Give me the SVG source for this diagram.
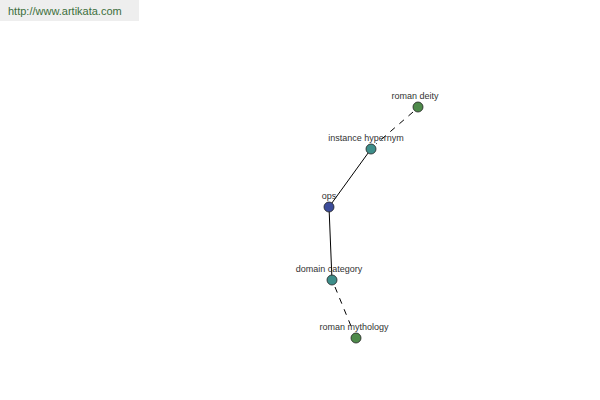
<svg xmlns="http://www.w3.org/2000/svg" width="600" height="400" viewBox="0 0 600 400">
<style>
.lbl{font-family:"Liberation Sans",Arial,sans-serif;font-size:9px;fill:#333;text-anchor:middle}
.node{stroke:#222;stroke-width:0.8}
.edge{stroke:#000;stroke-width:1;fill:none}
.dash{stroke-dasharray:6,6}
</style>
<rect x="0" y="0" width="600" height="400" fill="#fff"/>
<g id="header">
<rect x="0" y="0" width="139" height="21" fill="#eeeeee"/>
<text x="8" y="15" style="font-family:'Liberation Sans',Arial,sans-serif;font-size:11px;fill:#3c6e3c">http://www.artikata.com</text>
</g>
<g id="connectors">
<line class="edge dash" x1="413" y1="112" x2="376" y2="144"/>
<line class="edge" x1="371" y1="149" x2="329" y2="207"/>
<line class="edge" x1="329" y1="207" x2="332" y2="280"/>
<line class="edge dash" x1="335" y1="287" x2="353" y2="331"/>
</g>
<g id="roman-deity">
<circle class="node" cx="418" cy="107" r="5" fill="#4e8a4a"/>
<text class="lbl" x="415" y="99">roman deity</text>
</g>
<g id="instance-hypernym">
<circle class="node" cx="371" cy="149" r="5" fill="#3e8e8a"/>
<text class="lbl" x="366" y="141">instance hypernym</text>
</g>
<g id="ops">
<circle class="node" cx="329" cy="207" r="5" fill="#3c4c9a"/>
<text class="lbl" x="329" y="199">ops</text>
</g>
<g id="domain-category">
<circle class="node" cx="332" cy="280" r="5" fill="#3e8e8a"/>
<text class="lbl" x="329" y="272">domain category</text>
</g>
<g id="roman-mythology">
<circle class="node" cx="356" cy="338" r="5" fill="#4e8a4a"/>
<text class="lbl" x="354" y="330">roman mythology</text>
</g>
</svg>
